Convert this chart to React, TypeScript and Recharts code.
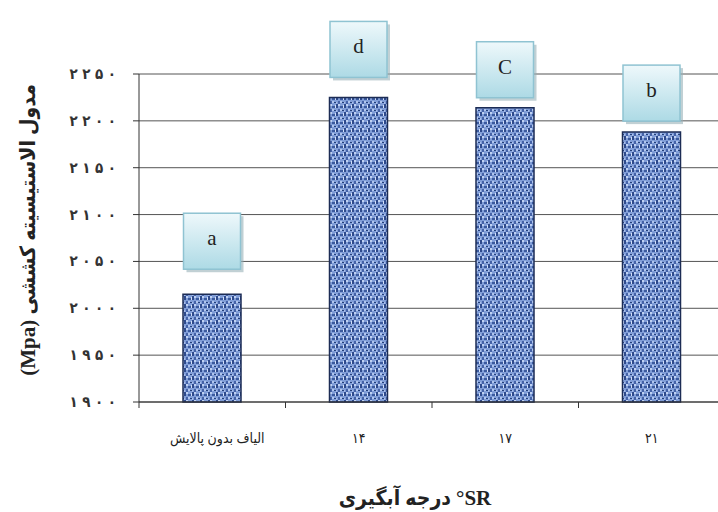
import { BarChart, Bar, XAxis, YAxis, CartesianGrid, LabelList } from "recharts";

// values
const categories = ["الیاف بدون پالایش", "۱۴", "۱۷", "۲۱"];
const modulus = [2015, 2225, 2214, 2188];
const groups = ["a", "d", "C", "b"];
const yTicks = [1900, 1950, 2000, 2050, 2100, 2150, 2200, 2250];

const yTitle = "(Mpa)  مدول الاستیسیته کششی";
const xTitleFa = "درجه آبگیری";
const xTitleUnit = "°SR";

// vertical space between a letter box and its bar
const labelGap = [25, 20, 10, 11];

const data = categories.map((name, i) => ({
  name,
  modulus: modulus[i],
  group: groups[i],
}));

const FONT = "'Liberation Serif', 'DejaVu Sans Condensed', 'DejaVu Sans', serif";

const toFa = (n: number | string) =>
  String(n).replace(/\d/g, (d) => "۰۱۲۳۴۵۶۷۸۹"[Number(d)]);

function XTick(props: any) {
  const { x, y, payload, index } = props;
  const half = payload.offset || 0;
  return (
    <g>
      {index === 0 && (
        <line x1={x - half} x2={x - half} y1={y} y2={y + 6} stroke="#333" />
      )}
      {index < categories.length - 1 && (
        <line x1={x + half} x2={x + half} y1={y} y2={y + 6} stroke="#333" />
      )}
      <text
        x={x + (index === 0 ? 5 : 0)}
        y={y + 41}
        textAnchor="middle"
        fontSize={14}
        fill="#222"
        fontFamily={FONT}
      >
        {payload.value}
      </text>
    </g>
  );
}

// Chrome ignores letter-spacing on Arabic-script digits, so space them by hand
function YTick(props: any) {
  const { x, y, payload } = props;
  const digits = toFa(payload.value).split("");
  return (
    <text
      x={x}
      y={y}
      textAnchor="end"
      dominantBaseline="central"
      fontSize={15}
      fontWeight="bold"
      fill="#333"
      fontFamily={FONT}
    >
      {digits.map((d, i) => (
        <tspan key={i} dx={i === 0 ? 0 : 4.5}>
          {d}
        </tspan>
      ))}
    </text>
  );
}

function GroupBox(props: any) {
  const { x, y, width, index, value } = props;
  const w = 57;
  const h = 56;
  const cx = x + width / 2;
  const bottom = y - labelGap[index];
  const top = bottom - h;
  return (
    <g>
      <rect x={cx - w / 2 + 3} y={top + 3} width={w} height={h} fill="#98b0b8" opacity={0.6} />
      <rect
        x={cx - w / 2}
        y={top}
        width={w}
        height={h}
        fill="url(#boxFill)"
        stroke="#8fc3d2"
        strokeWidth={1.5}
      />
      <text
        x={cx}
        y={top + h / 2 - 3}
        textAnchor="middle"
        dominantBaseline="central"
        fontSize={21}
        fill="#222"
        fontFamily="'Liberation Serif', serif"
      >
        {value}
      </text>
    </g>
  );
}

export default function App() {
  return (
    <div style={{ position: "absolute", left: 0, top: 0, background: "#fff" }}>
      <svg width={0} height={0} style={{ position: "absolute" }}>
        <defs>
          <pattern id="weave" width="8" height="8" patternUnits="userSpaceOnUse">
            <rect width="8" height="8" fill="#819ed8" />
            <rect x="0" y="0" width="2" height="4" fill="#2e4a8c" />
            <rect x="4" y="2" width="3" height="2" fill="#3b5a9e" />
            <rect x="2" y="5" width="2" height="3" fill="#4563a8" />
            <rect x="6" y="6" width="2" height="1" fill="#23407c" />
            <rect x="2" y="0" width="2" height="2" fill="#c0d2f3" />
            <rect x="7" y="1" width="1" height="3" fill="#d3e0f8" />
            <rect x="4" y="5" width="2" height="2" fill="#b1c6ee" />
            <rect x="0" y="6" width="1" height="2" fill="#a8bdea" />
          </pattern>
          <linearGradient id="boxFill" x1="0" y1="0" x2="0" y2="1">
            <stop offset="0%" stopColor="#eef8fb" />
            <stop offset="100%" stopColor="#addae5" />
          </linearGradient>
        </defs>
      </svg>
      <BarChart
        width={718}
        height={512}
        data={data}
        margin={{ top: 74, right: -7, bottom: 0, left: 0 }}
        barSize={58}
      >
        <CartesianGrid vertical={false} stroke="#555" />
        <XAxis
          dataKey="name"
          height={110}
          axisLine={{ stroke: "#333" }}
          tickLine={false}
          tickSize={0}
          tickMargin={0}
          interval={0}
          tick={<XTick />}
          label={(p: any) => {
            const vb = p.viewBox;
            const mid = vb.x + vb.width / 2;
            return (
              <g fontSize={21} fontWeight="bold" fill="#222" fontFamily={FONT}>
                <text x={mid + 19} y={505} textAnchor="end">
                  {xTitleFa}
                </text>
                <text x={mid + 24} y={505} textAnchor="start">
                  {xTitleUnit}
                </text>
              </g>
            );
          }}
        />
        <YAxis
          width={139}
          domain={[1900, 2250]}
          ticks={yTicks}
          interval={0}
          axisLine={{ stroke: "#333" }}
          tickLine={{ stroke: "#333" }}
          tickSize={6}
          tickMargin={17}
          tick={<YTick />}
          label={(p: any) => {
            const vb = p.viewBox;
            const cy = vb.y + vb.height / 2 - 8;
            return (
              <text
                x={28}
                y={cy}
                transform={`rotate(-90, 28, ${cy})`}
                textAnchor="middle"
                dominantBaseline="central"
                fontSize={21}
                fontWeight="bold"
                fill="#222"
                fontFamily={FONT}
              >
                {yTitle}
              </text>
            );
          }}
        />
        <Bar
          dataKey="modulus"
          fill="url(#weave)"
          stroke="#1c2c55"
          strokeWidth={1.5}
          isAnimationActive={false}
        >
          <LabelList dataKey="group" content={<GroupBox />} />
        </Bar>
      </BarChart>
    </div>
  );
}
